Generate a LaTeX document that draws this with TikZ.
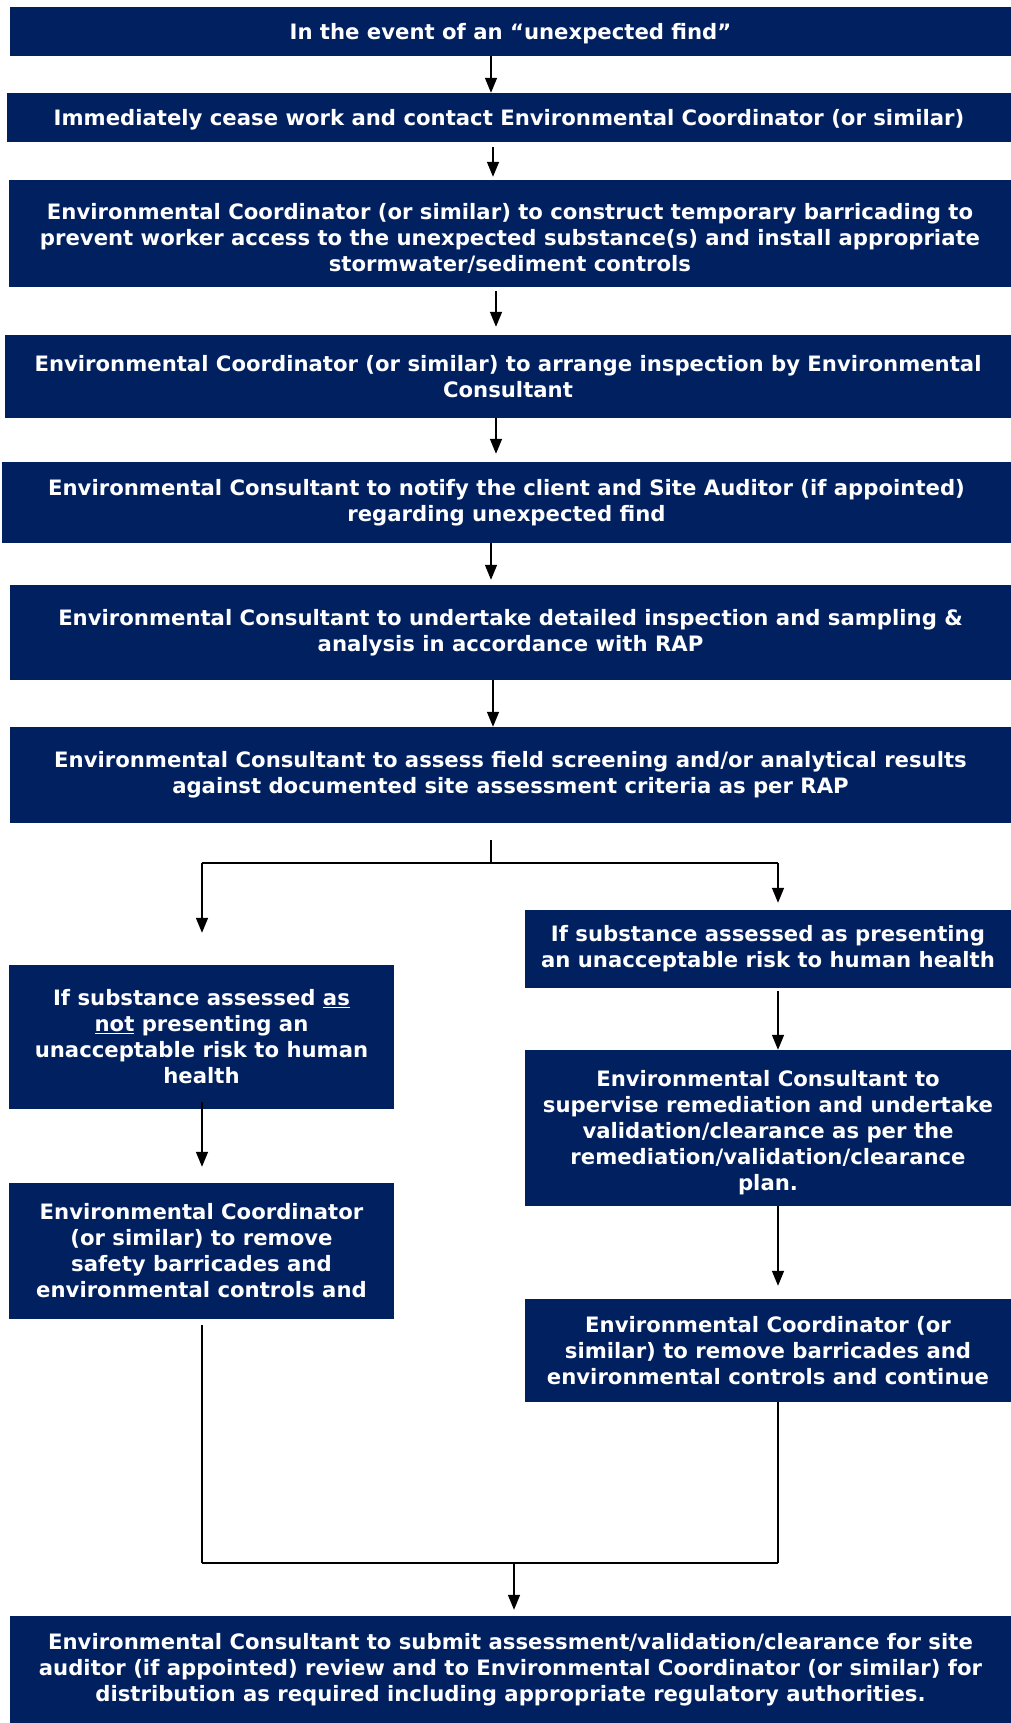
\documentclass[tikz,border=0pt]{standalone}
\usepackage{fontspec}
\setmainfont{DejaVu Sans}[BoldFont={DejaVu Sans Bold}]
\usetikzlibrary{arrows.meta}
\definecolor{navy}{RGB}{0,32,96}
\newcommand{\topgap}[1]{\rule{0pt}{#1}}
\begin{document}
\begin{tikzpicture}[x=1pt,y=-1pt,
  box/.style={fill=navy,text=white,inner sep=0pt,align=center,
    font=\fontsize{21.2}{26}\selectfont\bfseries},
  arr/.style={line width=1.5pt,-{Triangle[width=12pt,length=15pt]}},
  ln/.style={line width=1.5pt}]
\useasboundingbox (0,0) rectangle (1011,1723);
\fill[white] (0,0) rectangle (1011,1723);
\node[box,minimum width=1001pt,minimum height=49pt] (b1) at (510.5,31.5) {\topgap{21pt}In the event of an “unexpected find”};
\node[box,minimum width=1004pt,minimum height=49pt] (b2) at (509,117.5) {\topgap{21pt}Immediately cease work and contact Environmental Coordinator (or similar)};
\node[box,minimum width=1002pt,minimum height=107pt] (b3) at (510,233.5) {\topgap{26pt}Environmental Coordinator (or similar) to construct temporary barricading to\\prevent worker access to the unexpected substance(s) and install appropriate\\stormwater/sediment controls};
\node[box,minimum width=1006pt,minimum height=83pt] (b4) at (508,376.5) {Environmental Coordinator (or similar) to arrange inspection by Environmental\\Consultant};
\node[box,minimum width=1009pt,minimum height=81pt] (b5) at (506.5,502.5) {Environmental Consultant to notify the client and Site Auditor (if appointed)\\regarding unexpected find};
\node[box,minimum width=1001pt,minimum height=95pt] (b6) at (510.5,632.5) {Environmental Consultant to undertake detailed inspection and sampling \&\\analysis in accordance with RAP};
\node[box,minimum width=1001pt,minimum height=96pt] (b7) at (510.5,775) {Environmental Consultant to assess field screening and/or analytical results\\against documented site assessment criteria as per RAP};
\node[box,minimum width=486pt,minimum height=78pt] (r1) at (768,949) {If substance assessed as presenting\\an unacceptable risk to human health};
\node[box,minimum width=385pt,minimum height=144pt] (l1) at (201.5,1037) {If substance assessed \underline{as}\\\underline{not} presenting an\\unacceptable risk to human\\health};
\node[box,minimum width=385pt,minimum height=136pt] (l2) at (201.5,1251) {Environmental Coordinator\\(or similar) to remove\\safety barricades and\\environmental controls and};
\node[box,minimum width=486pt,minimum height=156pt] (r2) at (768,1128) {\topgap{26pt}Environmental Consultant to\\supervise remediation and undertake\\validation/clearance as per the\\remediation/validation/clearance\\plan.};
\node[box,minimum width=486pt,minimum height=103pt] (r3) at (768,1350.5) {Environmental Coordinator (or\\similar) to remove barricades and\\environmental controls and continue};
\node[box,minimum width=1001pt,minimum height=107pt] (b8) at (510.5,1669.5) {Environmental Consultant to submit assessment/validation/clearance for site\\auditor (if appointed) review and to Environmental Coordinator (or similar) for\\distribution as required including appropriate regulatory authorities.};
% column coordinates
\coordinate (x1) at (491,0);
\coordinate (x2) at (493,0);
\coordinate (x3) at (496,0);
\coordinate (xl) at (202,0);
\coordinate (xr) at (778,0);
\coordinate (xm) at (514,0);
\coordinate (j1) at (491,863);
\coordinate (jl) at (202,863);
\coordinate (jr) at (778,863);
\coordinate (m1) at (514,1563);
\coordinate (ml) at (202,1563);
\coordinate (mr) at (778,1563);
\draw[arr] (b1.south -| x1) -- (b2.north -| x1);
\draw[arr,shorten <=5pt,shorten >=3pt] (b2.south -| x2) -- (b3.north -| x2);
\draw[arr,shorten <=4pt,shorten >=8pt] (b3.south -| x3) -- (b4.north -| x3);
\draw[arr,shorten >=8pt] (b4.south -| x3) -- (b5.north -| x3);
\draw[arr,shorten >=5pt] (b5.south -| x1) -- (b6.north -| x1);
\draw[arr] (b6.south -| x2) -- (b7.north -| x2);
\draw[ln,shorten <=17pt] (b7.south -| x1) -- (j1);
\draw[ln] (jl) -- (jr);
\draw[arr,shorten >=32pt] (jl) -- (l1.north -| xl);
\draw[arr,shorten >=7pt] (jr) -- (r1.north -| xr);
\draw[arr,shorten <=-7pt,shorten >=16pt] (l1.south -| xl) -- (l2.north -| xl);
\draw[arr,shorten <=3pt] (r1.south -| xr) -- (r2.north -| xr);
\draw[arr,shorten >=13pt] (r2.south -| xr) -- (r3.north -| xr);
\draw[ln,shorten <=6pt] (l2.south -| xl) -- (ml);
\draw[ln] (r3.south -| xr) -- (mr);
\draw[ln] (ml) -- (mr);
\draw[arr,shorten >=6pt] (m1) -- (b8.north -| xm);
\end{tikzpicture}
\end{document}
